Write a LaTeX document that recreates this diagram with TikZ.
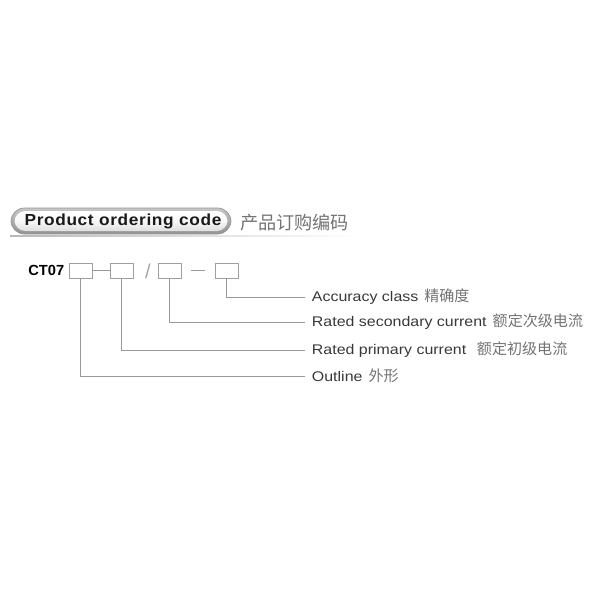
\documentclass[tikz,border=0pt]{standalone}
\usepackage{fontspec}
\setmainfont{Liberation Sans}
\newfontfamily\lblfont{Liberation Sans}[FakeStretch=1.14]
\newfontfamily\hdrfont{Liberation Sans Bold}[FakeStretch=1.08, LetterSpace=4]
\newfontfamily\cjk{Noto Sans CJK SC}
\begin{document}
\begin{tikzpicture}[x=0.75pt,y=-0.75pt,
  codebox/.style={draw=gray!75, line width=0.6pt, minimum width=17.25pt, minimum height=11.25pt, inner sep=0pt},
  lbl/.style={anchor=west, inner xsep=5pt, inner ysep=0pt, font=\lblfont\fontsize{10.5}{12}\selectfont, text=black!78},
  cnl/.style={font=\cjk\fontsize{11.3}{13}\selectfont, text=black!55},
  conn/.style={draw=gray!80, line width=0.6pt}
]
\useasboundingbox (0,0) rectangle (600,600);
% header
\shade[left color=gray!55, right color=white] (10,235) rectangle (360,236.5);
\shade[rounded corners=10pt, top color=gray!45, bottom color=gray!85, draw=gray!85, line width=0.5pt] (11,208) rectangle (231,234);
\shade[rounded corners=8pt, top color=white, bottom color=gray!25, middle color=gray!6] (14.5,211) rectangle (227.5,231);
\node[font=\hdrfont\fontsize{12}{14}\selectfont, text=black!90] (hdr) at (123,221.5) {Product ordering code};
\node[anchor=west, font=\cjk\fontsize{13.6}{15}\selectfont, text=black!55, inner sep=0pt] (hdrcn) at (240,223) {产品订购编码};
% code
\node[anchor=east, font=\bfseries\fontsize{11}{13}\selectfont, inner sep=0pt] (ct) at (64.5,270.5) {CT07};
\node[codebox] (b1) at (80.5,270.5) {};
\node[codebox] (b2) at (121.5,270.5) {};
\node[codebox] (b3) at (169.5,270.5) {};
\node[codebox] (b4) at (226.5,270.5) {};
\draw[conn] (b1.east) -- (b2.west);
\node[font=\fontsize{15}{17}\selectfont, text=gray!70, inner sep=0pt] (sl) at (148,271) {/};
\coordinate (d1) at (191,270.5);
\coordinate (d2) at (205,270.5);
\draw[conn] (d1) -- (d2);
% labels
\node[lbl] (l1) at (305,297) {Accuracy class\hspace{4.5pt}{\cjk\fontsize{11.3}{13}\selectfont\color{black!55}精确度}};
\node[lbl] (l2) at (305,322) {Rated secondary current\hspace{4.5pt}{\cjk\fontsize{11.3}{13}\selectfont\color{black!55}额定次级电流}};
\node[lbl] (l3) at (305,350) {Rated primary current\hspace{8pt}{\cjk\fontsize{11.3}{13}\selectfont\color{black!55}额定初级电流}};
\node[lbl] (l4) at (305,376) {Outline\hspace{4.5pt}{\cjk\fontsize{11.3}{13}\selectfont\color{black!55}外形}};
\draw[conn] (b4.south) |- (l1.west);
\draw[conn] (b3.south) |- (l2.west);
\draw[conn] (b2.south) |- (l3.west);
\draw[conn] (b1.south) |- (l4.west);
\end{tikzpicture}
\end{document}
